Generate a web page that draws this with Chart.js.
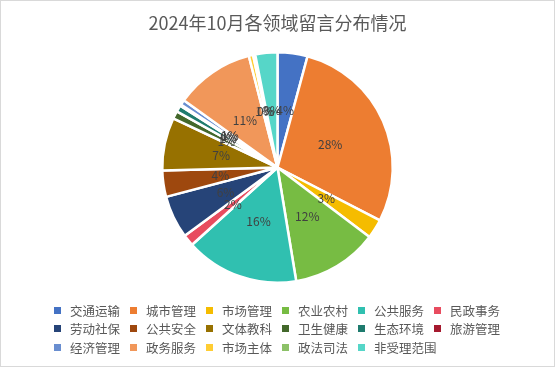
<!DOCTYPE html>
<html>
<head>
<meta charset="utf-8">
<script src="https://cdn.jsdelivr.net/npm/chart.js@4"></script>
<style>
  html, body { margin: 0; padding: 0; background: #fff; }
  #wrap { position: relative; width: 553px; height: 365px; border: 1px solid #d9d9d9; overflow: hidden; }
  #title { position: absolute; left: 0; top: 8px; width: 100%; text-align: center;
    font: 18px "Noto Sans CJK SC", sans-serif; color: #595959; }
  #chart { position: absolute; left: 0; top: 0; }
  #legend { position: absolute; left: 53px; top: 300px; display: grid;
    grid-template-columns: repeat(6, 76px); grid-auto-rows: 18.5px;
    font: 12.5px "Noto Sans CJK SC", sans-serif; color: #595959; }
  #legend div { display: flex; align-items: center; white-space: nowrap; }
  #legend span.box { width: 7px; height: 7px; margin-right: 9px; flex: none; }
</style>
</head>
<body>
<div id="wrap">
  <canvas id="chart" width="553" height="365"></canvas>
  <div id="title">2024年10月各领域留言分布情况</div>
  <div id="legend"></div>
</div>
<script>
// 分类和占比(%)
const categories = ['交通运输', '城市管理', '市场管理', '农业农村', '公共服务', '民政事务',
  '劳动社保', '公共安全', '文体教科', '卫生健康', '生态环境', '旅游管理',
  '经济管理', '政务服务', '市场主体', '政法司法', '非受理范围'];
const shares = [4.2, 28.4, 2.7, 12.1, 15.9, 1.6, 6.0, 3.7, 7.4, 1.1, 0.9, 0.2, 0.7, 11.1, 0.6, 0.3, 3.1];
const colors = ['#4472C4', '#ED7D31', '#F5BC00', '#77BC43', '#30C0B0', '#E84C5F',
  '#264478', '#9E480E', '#977100', '#43682B', '#1E7B6E', '#A5192E',
  '#698ED0', '#F1975A', '#FFCD33', '#8CC168', '#56D6C8'];

// 범례 (HTML)
const legendEl = document.getElementById('legend');
categories.forEach((name, i) => {
  const item = document.createElement('div');
  item.innerHTML = `<span class="box" style="background:${colors[i]}"></span>${name}`;
  legendEl.appendChild(item);
});

// 퍼센트 라벨
const pctLabels = {
  id: 'pctLabels',
  afterDatasetsDraw(chart) {
    const ctx = chart.ctx;
    const meta = chart.getDatasetMeta(0);
    const data = chart.data.datasets[0].data;
    const total = data.reduce((a, b) => a + b, 0);
    ctx.save();
    ctx.font = '12px "Noto Sans CJK SC", sans-serif';
    ctx.fillStyle = '#404040';
    ctx.textAlign = 'center';
    ctx.textBaseline = 'middle';
    meta.data.forEach((arc, i) => {
      const p = arc.tooltipPosition();
      ctx.fillText(Math.round(data[i] / total * 100) + '%', p.x, p.y);
    });
    ctx.restore();
  }
};

new Chart(document.getElementById('chart'), {
  type: 'pie',
  data: {
    labels: categories,
    datasets: [{
      data: shares,
      backgroundColor: colors,
      borderColor: '#fff',
      borderWidth: 2.5
    }]
  },
  options: {
    responsive: false,
    animation: false,
    layout: { padding: { top: 50, bottom: 82 } },
    plugins: {
      legend: { display: false },
      tooltip: { enabled: false }
    }
  },
  plugins: [pctLabels]
});
</script>
</body>
</html>
